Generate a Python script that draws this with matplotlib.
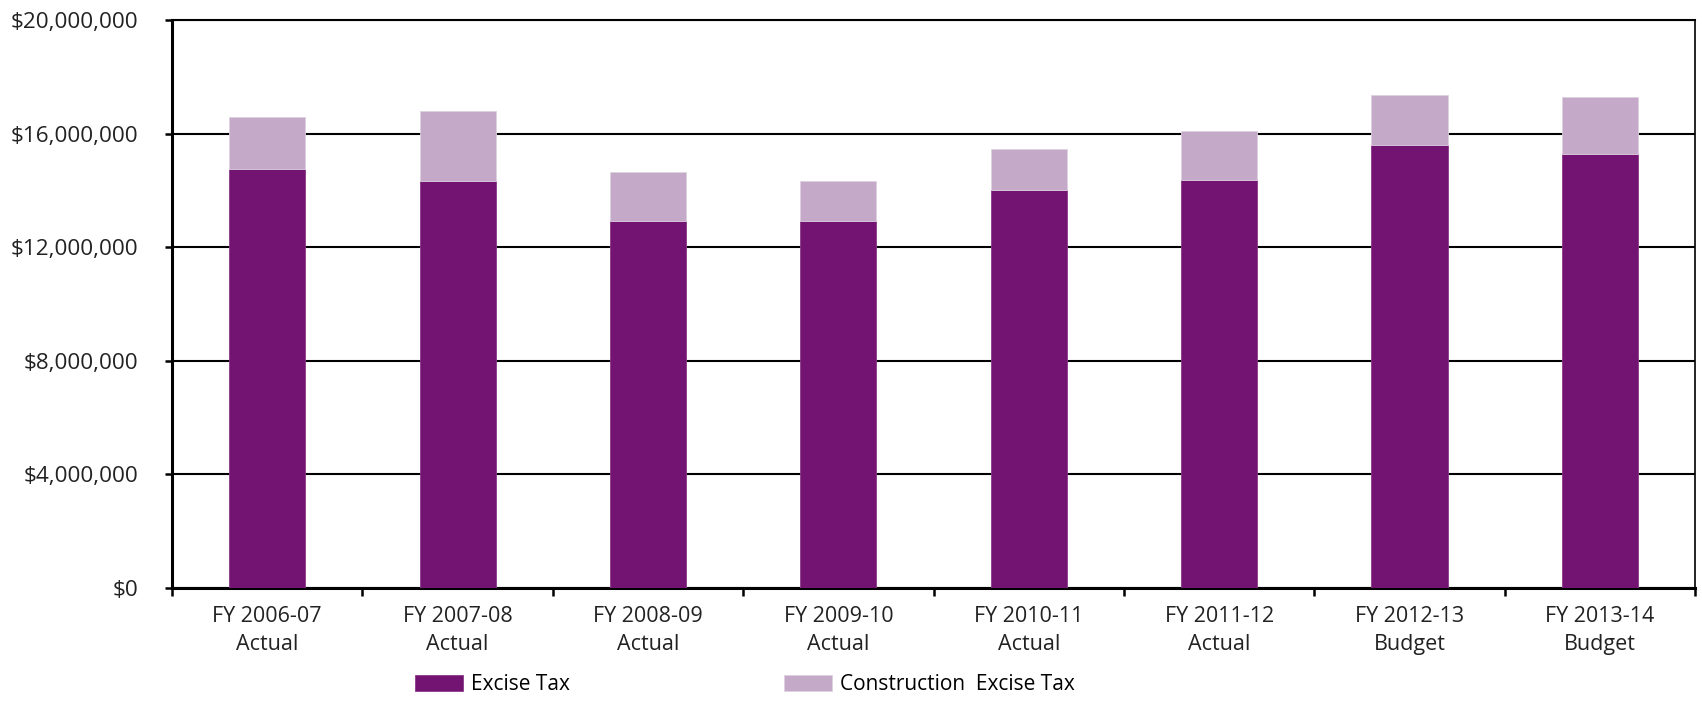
import numpy as np
import matplotlib
matplotlib.use("Agg")
import matplotlib.pyplot as plt
from matplotlib.ticker import FuncFormatter

plt.rcParams['font.family'] = ['Open Sans', 'DejaVu Sans']

# fiscal years and revenue by source (dollars)
years = ['FY 2006-07', 'FY 2007-08', 'FY 2008-09', 'FY 2009-10',
         'FY 2010-11', 'FY 2011-12', 'FY 2012-13', 'FY 2013-14']
status = ['Actual', 'Actual', 'Actual', 'Actual', 'Actual', 'Actual', 'Budget', 'Budget']
excise = [14.77e6, 14.33e6, 12.93e6, 12.93e6, 14.02e6, 14.39e6, 15.60e6, 15.28e6]
construction = [1.83e6, 2.47e6, 1.72e6, 1.40e6, 1.46e6, 1.72e6, 1.78e6, 2.03e6]

dark = '#731472'
light = '#c4a9c9'

def dollars(v, pos):
    return '${:,.0f}'.format(v)

fig = plt.figure(figsize=(17.02, 7.01), dpi=100)
ax = fig.add_axes([0.1011, 0.1612, 0.8948, 0.8096])

x = np.arange(len(years))
ax.bar(x, excise, width=0.4, color=dark, edgecolor='#8a3a88', linewidth=0.6,
       label='Excise Tax', zorder=3)
ax.bar(x, construction, width=0.4, bottom=excise, color=light, edgecolor='#ddd0df',
       linewidth=0.6, label='Construction  Excise Tax', zorder=3)

ax.set_xlim(-0.5, len(years) - 0.5)
ax.set_ylim(0, 20e6)
ax.set_yticks(np.arange(0, 20.1e6, 4e6))
ax.yaxis.set_major_formatter(FuncFormatter(dollars))
ax.yaxis.grid(True, color='black', linewidth=1.5, zorder=1)

ax.set_xticks(x)
ax.set_xticklabels([f'{y}\n{s}' for y, s in zip(years, status)], linespacing=1.45)
ax.set_xticks(np.arange(-0.5, len(years), 1), minor=True)
ax.tick_params(axis='x', which='major', length=0, pad=13, labelsize=15.5, labelcolor='#222222')
ax.tick_params(axis='x', which='minor', length=6, width=1.8, direction='out')
ax.tick_params(axis='y', length=5, width=1.8, pad=19, labelsize=16.2, labelcolor='#222222')

for side in ['left', 'bottom']:
    ax.spines[side].set_linewidth(2.2)
ax.spines['top'].set_linewidth(1.5)
ax.spines['right'].set_linewidth(1.2)

fig.legend(loc='center left', bbox_to_anchor=(0.2438, 0.023), ncol=2, frameon=False,
           fontsize=15, handlelength=2.3, handleheight=0.8, handletextpad=0.38,
           columnspacing=10.3, borderpad=0, borderaxespad=0)

fig.savefig('out.png', dpi=100)
